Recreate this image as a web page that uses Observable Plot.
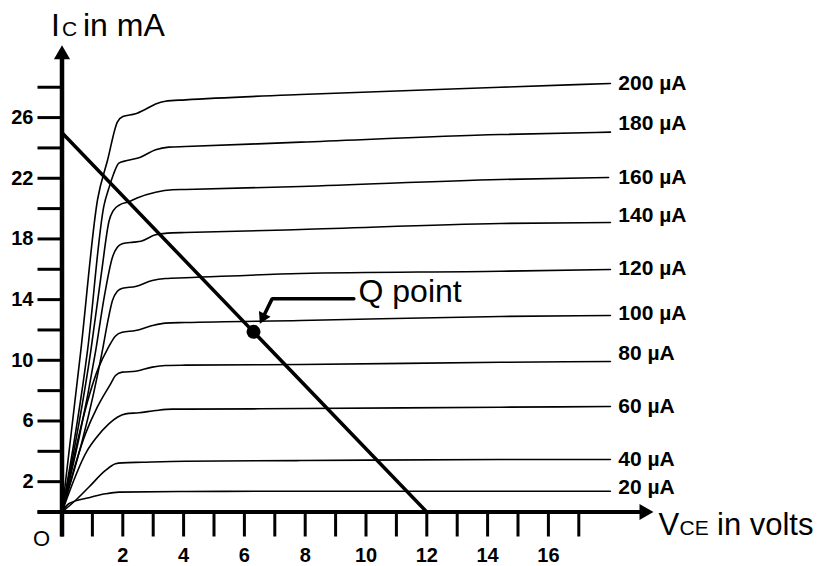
<!DOCTYPE html>
<html>
<head>
<meta charset="utf-8">
<script src="https://cdn.jsdelivr.net/npm/d3@7"></script>
<script src="https://cdn.jsdelivr.net/npm/@observablehq/plot@0.6"></script>
<style>
  html, body { margin: 0; padding: 0; background: #fff; }
  #chart svg { display: block; }
</style>
</head>
<body>
<div id="chart"></div>
<script>
// ---- data (V_CE in volts, I_C in mA) ----
const baseCurrents = ["200 µA", "180 µA", "160 µA", "140 µA", "120 µA", "100 µA", "80 µA", "60 µA", "40 µA", "20 µA"];
const c200 = [[0,0],[0.62,10.65],[1.17,20.6],[1.5,23.2],[1.82,25.7],[2.0,26.07],[2.42,26.25],[2.75,26.55],[3.08,26.9],[3.4,27.08],[4.06,27.17],[7.85,27.52],[14.42,28.0],[18.04,28.25]];
const c180 = [[0,0],[0.84,10.65],[1.38,20.2],[1.55,21.4],[1.7,22.3],[1.87,23.0],[2.14,23.17],[2.58,23.39],[3.08,23.88],[3.51,24.05],[4.06,24.09],[7.85,24.38],[14.42,24.88],[18.04,25.04]];
const c160 = [[0,0],[0.95,10.65],[1.3,15.8],[1.55,19.2],[1.68,19.85],[1.9,20.25],[2.2,20.45],[2.47,20.7],[3.08,21.08],[3.63,21.24],[4.06,21.26],[7.85,21.46],[14.42,21.92],[17.98,22.05]];
const c140 = [[0,0],[1.11,10.65],[1.4,14.3],[1.66,16.8],[1.82,17.45],[1.98,17.68],[2.35,17.79],[2.6,17.85],[3.08,18.27],[3.63,18.4],[4.06,18.42],[7.85,18.62],[14.42,19.02],[18.04,19.08]];
const c120 = [[0,0],[1.33,10.65],[1.5,12.5],[1.66,13.94],[1.82,14.55],[1.99,14.75],[2.42,14.87],[2.97,15.26],[3.4,15.39],[4.06,15.44],[7.85,15.72],[14.42,15.87],[18.04,15.99]];
const c100 = [[0,0],[1.21,9.55],[1.5,10.75],[1.76,11.6],[1.98,11.85],[2.42,11.96],[2.97,12.29],[3.4,12.45],[4.06,12.49],[7.85,12.62],[14.42,12.89],[18.04,12.95]];
const c80  = [[0,0],[0.77,5.15],[1.16,6.91],[1.6,8.45],[1.76,9.0],[1.98,9.22],[2.42,9.28],[2.97,9.55],[3.4,9.66],[4.06,9.68],[7.85,9.72],[14.42,9.87],[18.04,9.92]];
const c60  = [[0,0],[0.83,4.05],[1.1,4.83],[1.54,5.81],[1.82,6.25],[2.09,6.47],[2.53,6.54],[3.08,6.69],[3.63,6.78],[4.06,6.78],[7.85,6.82],[14.42,6.91],[18.04,6.95]];
const c40  = [[0,0],[0.44,0.76],[0.88,1.63],[1.43,2.74],[1.76,3.18],[1.98,3.24],[2.64,3.28],[4.06,3.35],[7.85,3.39],[14.42,3.46],[18.04,3.46]];
const c20  = [[0,0],[0.22,0.54],[0.88,0.94],[1.43,1.2],[1.87,1.31],[4.06,1.35],[7.85,1.37],[18.04,1.37]];
const curves = [c200, c180, c160, c140, c120, c100, c80, c60, c40, c20];
const labelI = [28.25, 25.6, 22.05, 19.55, 16.05, 13.08, 10.45, 6.95, 3.46, 1.61];
const labelV = 18.3;

const loadLine = [[0, 25], [12, 0]];
const qPoint = [[6.3, 11.875]];
const qArrow = [[9.6, 14.05], [6.91, 14.05], [6.51, 12.41]];

const xTicks = [0,1,2,3,4,5,6,7,8,9,10,11,12,13,14,15,16,17];
const xTickLabels = [2,4,6,8,10,12,14,16];
const yTicks = [0,2,4,6,8,10,12,14,16,18,20,22,24,26,28];
const yTickLabels = [2,6,10,14,18,22,26];
const xArrowTip = 19.45;
const yArrowTip = 30.75;

// ---- layout ----
const W = 819, H = 566;
const X0 = 61.5, KX = 30.4, Y0 = 511.5, KY = 15.17;
const FONT = "Liberation Sans, Arial, Helvetica, sans-serif";

const rows = curves.flatMap((c, i) => c.map(([V, I]) => ({V, I, curve: baseCurrents[i]})));
const labels = baseCurrents.map((t, i) => ({t, V: labelV, I: labelI[i]}));

// filled arrowhead: triangle dot whose tip sits on the given point
function head(tip, angle, r) {
  const h2 = 2 * Math.sqrt(Math.PI * r * r / (3 * Math.sqrt(3)));
  const a = angle * Math.PI / 180;
  const ux = Math.sin(a), uy = -Math.cos(a);
  const shaftEnd = [tip[0] - ux * h2 / KX, tip[1] + uy * h2 / KY];
  const mark = Plot.dot([tip], {x: d => d[0], y: d => d[1], symbol: "triangle", r, fill: "black", stroke: null,
    rotate: angle, dx: -ux * h2 * 0.98, dy: -uy * h2 * 0.98});
  return {mark, shaftEnd};
}

const yHead = head([0, yArrowTip], 0, 6);
const xHead = head([xArrowTip, 0], 90, 6);
// Q arrow direction in pixels
const qa = qArrow[1], qt = qArrow[2];
const pdx = (qt[0] - qa[0]) * KX, pdy = -(qt[1] - qa[1]) * KY;
const qAngle = Math.atan2(pdx, -pdy) * 180 / Math.PI;
const qHead = head(qt, qAngle, 4.8);
const qShaft = [qArrow[0], qArrow[1], qHead.shaftEnd];

const extX = -24 / KX, extY = -25 / KY;

function label(str, x, baseline, size, anchor = "start") {
  return Plot.text([str], {frameAnchor: "top-left", dx: x - X0, dy: baseline - 0.71 * size,
    lineAnchor: "top", textAnchor: anchor, fontSize: size, fontFamily: FONT});
}

const chart = Plot.plot({
  width: W, height: H,
  marginLeft: X0, marginBottom: H - Y0, marginTop: 0, marginRight: 0,
  style: {fontFamily: FONT, background: "white", color: "black", overflow: "visible"},
  x: {domain: [0, 17], range: [X0, X0 + 17 * KX]},
  y: {domain: [0, 28], range: [Y0, Y0 - 28 * KY]},
  marks: [
    // ticks
    Plot.axisX({ticks: xTicks, tickSize: 25, tickFormat: () => "", strokeWidth: 3, label: null}),
    Plot.axisY({ticks: yTicks, tickSize: 24, tickFormat: () => "", strokeWidth: 3, label: null}),
    // tick labels
    Plot.axisX({ticks: xTickLabels, tickSize: 0, tickPadding: 36, fontSize: 20, fontWeight: "bold", label: null}),
    Plot.axisY({ticks: yTickLabels, tickSize: 0, tickPadding: 28.5, fontSize: 20, fontWeight: "bold", label: null}),
    // axis lines with arrowheads
    Plot.ruleY([0], {x1: extX, x2: xHead.shaftEnd[0], strokeWidth: 4}),
    Plot.ruleX([0], {y1: extY, y2: yHead.shaftEnd[1], strokeWidth: 4.5}),
    yHead.mark, xHead.mark,
    // characteristic curves
    Plot.line(rows, {x: "V", y: "I", z: "curve", curve: "monotone-x", stroke: "black", strokeWidth: 1.6}),
    Plot.text(labels, {x: "V", y: "I", text: "t", textAnchor: "start", fontSize: 21, fontWeight: "bold", fontFamily: FONT}),
    // load line and Q point
    Plot.line(loadLine, {x: d => d[0], y: d => d[1], stroke: "black", strokeWidth: 3.5}),
    Plot.dot(qPoint, {x: d => d[0], y: d => d[1], r: 7, fill: "black", stroke: null}),
    Plot.line(qShaft, {x: d => d[0], y: d => d[1], stroke: "black", strokeWidth: 3.5, strokeLinejoin: "miter"}),
    qHead.mark,
    // annotations
    label("Q point", 358, 301, 32),
    label("I", 50.5, 35, 32),
    label("C", 61.5, 35, 21),
    label("in mA", 82.5, 35, 32),
    label("V", 658, 534, 31),
    label("CE", 679, 534, 21),
    label("in volts", 716.5, 534, 31),
    label("O", 41, 545, 22, "middle")
  ]
});
document.getElementById("chart").appendChild(chart);
</script>
</body>
</html>
